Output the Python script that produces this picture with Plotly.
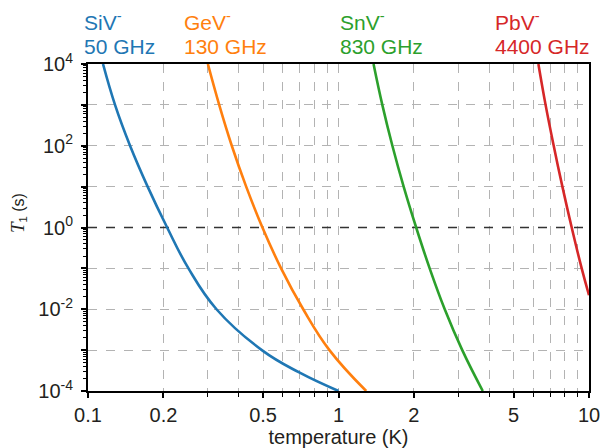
import plotly.graph_objects as go

# ---- data ----
t1_levels = [1e4, 1e3, 1e2, 1e1, 1e0, 1e-1, 1e-2, 1e-3, 1e-4]

siv_T = [0.1148, 0.1282, 0.1472, 0.1730, 0.2070, 0.2518, 0.3258, 0.4943, 0.70, 1.0]
siv_T1 = [1e4, 1e3, 1e2, 1e1, 1e0, 1e-1, 1e-2, 1e-3, 2.8e-4, 1e-4]

gev_T = [0.301, 0.334, 0.375, 0.428, 0.497, 0.590, 0.723, 0.920, 1.29]
gev_T1 = t1_levels

snv_T = [1.380, 1.496, 1.641, 1.820, 2.042, 2.312, 2.655, 3.119, 3.767]
snv_T1 = t1_levels

pbv_T = [6.28, 6.71, 7.23, 7.83, 8.53, 9.35, 10.0]
pbv_T1 = [1e4, 1e3, 1e2, 1e1, 1e0, 1e-1, 0.022]

names = ["SiV<sup>-</sup>", "GeV<sup>-</sup>", "SnV<sup>-</sup>", "PbV<sup>-</sup>"]
freqs = ["50 GHz", "130 GHz", "830 GHz", "4400 GHz"]
colors = ["#1f77b4", "#ff7f0e", "#2ca02c", "#d62728"]

x_major = [0.1, 0.2, 0.5, 1, 2, 5, 10]
x_major_text = ["0.1", "0.2", "0.5", "1", "2", "5", "10"]
x_minor = [0.3, 0.4, 0.6, 0.7, 0.8, 0.9, 3, 4, 6, 7, 8, 9]
y_ticks = [1e-4, 1e-3, 1e-2, 1e-1, 1e0, 1e1, 1e2, 1e3, 1e4]
y_text = ["10<sup>-4</sup>", "", "10<sup>-2</sup>", "", "10<sup>0</sup>", "",
          "10<sup>2</sup>", "", "10<sup>4</sup>"]
ref_x = [0.1, 10]
ref_y = [1, 1]

# ---- layout geometry (pixels) ----
W, H = 605, 448
L, R, T, B = 88, 16, 64, 57
pw, ph = W - L - R, H - T - B


def px_x(p):
    return (p - L) / pw


def px_y(p):
    return (H - B - p) / ph


FONT = "Liberation Sans, Arial, Helvetica, sans-serif"
TXT = "#231f20"

fig = go.Figure()

fig.add_trace(go.Scatter(x=ref_x, y=ref_y, mode="lines",
                         line=dict(color="#333333", width=1.3, dash="dash"),
                         hoverinfo="skip", showlegend=False))

for xs, ys, c in [(siv_T, siv_T1, colors[0]), (gev_T, gev_T1, colors[1]),
                  (snv_T, snv_T1, colors[2]), (pbv_T, pbv_T1, colors[3])]:
    fig.add_trace(go.Scatter(x=xs, y=ys, mode="lines",
                             line=dict(color=c, width=2.6, shape="spline", smoothing=1.2),
                             showlegend=False))

label_x = [83, 183.3, 339.3, 494]
for i in range(4):
    fig.add_annotation(text=names[i], x=px_x(label_x[i]), y=px_y(21), xref="paper", yref="paper",
                       xanchor="left", yanchor="middle", showarrow=False,
                       font=dict(size=21, color=colors[i], family=FONT), borderpad=0)
    fig.add_annotation(text=freqs[i], x=px_x(label_x[i]), y=px_y(46), xref="paper", yref="paper",
                       xanchor="left", yanchor="middle", showarrow=False,
                       font=dict(size=21, color=colors[i], family=FONT), borderpad=0)

fig.add_annotation(text="<span style='font-family:Liberation Serif, Times New Roman, serif;font-size:19px'><i>T</i></span><sub>1</sub> (s)",
                   x=px_x(18), y=px_y(213), xref="paper", yref="paper", textangle=-90,
                   xanchor="center", yanchor="middle", showarrow=False,
                   font=dict(size=16, color=TXT, family=FONT))

grid = "#b3b3b3"
fig.update_xaxes(type="log", range=[-1, 1], tickmode="array", tickvals=x_major, ticktext=x_major_text,
                 ticks="outside", ticklen=5, tickwidth=1.5, tickcolor="black",
                 showline=True, linewidth=2, linecolor="black", mirror=True,
                 showgrid=True, gridcolor=grid, griddash="dash", gridwidth=1,
                 minor=dict(tickmode="array", tickvals=x_minor, ticks="outside", ticklen=4,
                            tickcolor="black", tickwidth=1, showgrid=True, gridcolor=grid,
                            griddash="dash", gridwidth=1),
                 tickfont=dict(size=20, color=TXT, family=FONT),
                 title=dict(text="temperature (K)", font=dict(size=20, color=TXT, family=FONT), standoff=1),
                 zeroline=False, automargin=False)
fig.update_yaxes(type="log", range=[-4, 4], tickmode="array", tickvals=y_ticks, ticktext=y_text,
                 ticks="outside", ticklen=5, tickwidth=1.5, tickcolor="black",
                 showline=True, linewidth=2, linecolor="black", mirror=True,
                 showgrid=True, gridcolor=grid, griddash="dash", gridwidth=1,
                 minor=dict(dtick="D1", ticks="outside", ticklen=3, tickcolor="black",
                            tickwidth=1, showgrid=False),
                 tickfont=dict(size=20, color=TXT, family=FONT), ticklabelstandoff=4,
                 zeroline=False, automargin=False)

fig.update_layout(width=W, height=H, margin=dict(l=L, r=R, t=T, b=B, pad=0),
                  plot_bgcolor="white", paper_bgcolor="white", showlegend=False)

fig.write_html("out.html")
